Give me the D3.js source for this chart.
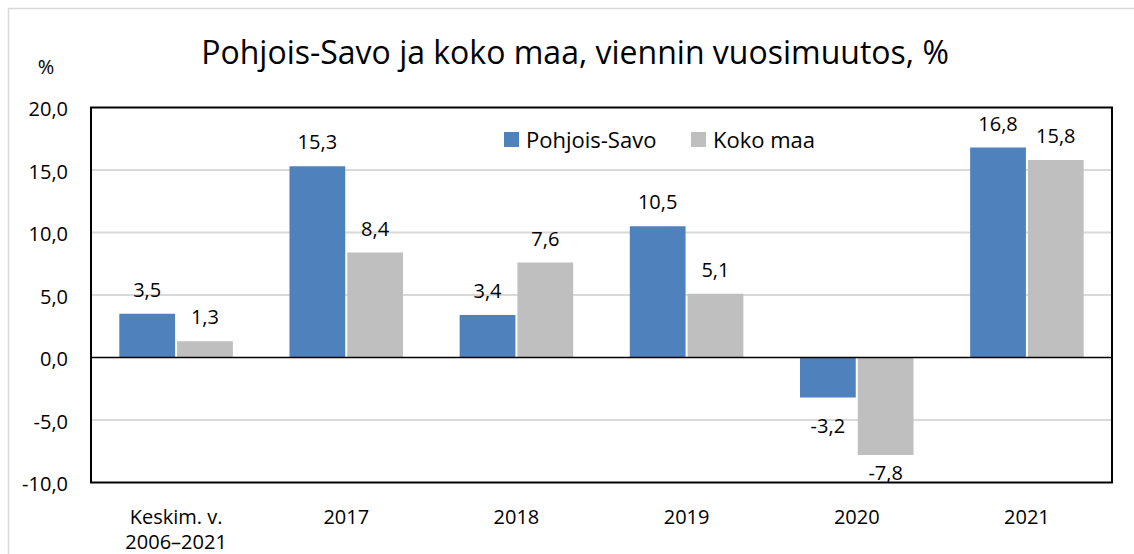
<!DOCTYPE html>
<html>
<head>
<meta charset="utf-8">
<title>Pohjois-Savo ja koko maa</title>
<script src="https://cdn.jsdelivr.net/npm/d3@7"></script>
<style>
  body { margin: 0; background: #fff; }
  text { font-family: "Open Sans", sans-serif; fill: #000; }
</style>
</head>
<body>
<script>
    // data
    var categories = ["Keskim. v.|2006–2021", "2017", "2018", "2019", "2020", "2021"];
    var seriesNames = ["Pohjois-Savo", "Koko maa"];
    var pohjoisSavo = [3.5, 15.3, 3.4, 10.5, -3.2, 16.8];
    var kokoMaa = [1.3, 8.4, 7.6, 5.1, -7.8, 15.8];
    var yTicks = [-10, -5, 0, 5, 10, 15, 20];
    var colors = ["#4f81bd", "#bfbfbf"];

    var W = 1134, H = 554;
    var pLeft = 91, pRight = 1112, pTop = 107.5, pBottom = 482.5;

    var svg = d3.select("body").append("svg")
        .attr("width", W).attr("height", H);

    // outer chart border
    svg.append("rect")
        .attr("x", 8.5).attr("y", 8.5)
        .attr("width", 1140).attr("height", 560)
        .attr("fill", "none").attr("stroke", "#d9d9d9").attr("stroke-width", 1.5);

    var x = d3.scaleBand().domain(d3.range(categories.length))
        .range([pLeft, pRight]).paddingInner(0).paddingOuter(0);
    var x1 = d3.scaleBand().domain([0, 1])
        .range([0, x.bandwidth()]).paddingInner(0.035).paddingOuter(0.49);
    var y = d3.scaleLinear().domain([-10, 20]).range([pBottom, pTop]);

    var fmt = function(d){ return d3.format(".1f")(d).replace(".", ",").replace("−", "-"); };

    // gridlines
    svg.append("g").selectAll("line")
        .data(yTicks.filter(function(d){ return d !== 0 && d !== 20 && d !== -10; }))
        .enter().append("line")
        .attr("x1", pLeft).attr("x2", pRight)
        .attr("y1", function(d){ return y(d); })
        .attr("y2", function(d){ return y(d); })
        .attr("stroke", "#d9d9d9").attr("stroke-width", 2);

    // y tick labels
    var yAxis = d3.axisLeft(y).tickValues(yTicks)
        .tickSize(0).tickPadding(23)
        .tickFormat(fmt);
    var ya = svg.append("g").attr("transform", "translate(" + pLeft + ",0)").call(yAxis);
    ya.select(".domain").remove();
    ya.selectAll("text").attr("font-size", 20).attr("font-family", "Open Sans, sans-serif")
        .attr("fill", "#000").attr("dy", "0.42em");

    var rows = categories.map(function(c, i){ return [pohjoisSavo[i], kokoMaa[i]]; });

    var groups = svg.append("g").selectAll("g")
        .data(rows).enter().append("g")
        .attr("transform", function(d, i){ return "translate(" + x(i) + ",0)"; });

    groups.selectAll("rect")
        .data(function(d){ return d; })
        .enter().append("rect")
        .attr("x", function(d, j){ return x1(j); })
        .attr("width", x1.bandwidth())
        .attr("y", function(d){ return y(Math.max(0, d)); })
        .attr("height", function(d){ return Math.abs(y(d) - y(0)); })
        .attr("fill", function(d, j){ return colors[j]; });

    // value labels (negative ones kept inside the plot area, like Excel does)
    groups.selectAll("text.val")
        .data(function(d){ return d; })
        .enter().append("text")
        .attr("class", "val")
        .attr("text-anchor", "middle")
        .attr("font-size", 20)
        .attr("x", function(d, j){ return x1(j) + x1.bandwidth() / 2; })
        .attr("y", function(d){ return d >= 0 ? y(d) - 17 : Math.min(y(d) + 35.5, pBottom - 3); })
        .text(fmt);

    // zero line
    svg.append("line")
        .attr("x1", pLeft).attr("x2", pRight)
        .attr("y1", y(0)).attr("y2", y(0))
        .attr("stroke", "#000").attr("stroke-width", 1.5);

    // plot border
    svg.append("rect")
        .attr("x", pLeft).attr("y", pTop)
        .attr("width", pRight - pLeft).attr("height", pBottom - pTop)
        .attr("fill", "none").attr("stroke", "#000").attr("stroke-width", 2);

    // category labels
    var cat = svg.append("g").selectAll("text")
        .data(categories).enter().append("text")
        .attr("text-anchor", "middle")
        .attr("font-size", 20)
        .attr("x", function(d, i){ return x(i) + x.bandwidth() / 2; })
        .attr("y", 524);
    cat.each(function(d){
        var t = d3.select(this);
        d.split("|").forEach(function(line, k){
            t.append("tspan").attr("x", t.attr("x")).attr("dy", k === 0 ? 0 : 25).text(line);
        });
    });

    // legend
    var legX = [504, 691];
    var leg = svg.append("g").selectAll("g")
        .data(seriesNames).enter().append("g")
        .attr("transform", function(d, i){ return "translate(" + legX[i] + ",132)"; });
    leg.append("rect").attr("width", 15).attr("height", 15)
        .attr("fill", function(d, i){ return colors[i]; });
    leg.append("text").attr("x", 22).attr("y", 15.5).attr("font-size", 22)
        .text(function(d){ return d; });

    // title
    svg.append("text")
        .attr("x", 575).attr("y", 64)
        .attr("text-anchor", "middle")
        .attr("font-size", 32)
        .text("Pohjois-Savo ja koko maa, viennin vuosimuutos, %");

    svg.append("text")
        .attr("x", 46).attr("y", 74)
        .attr("text-anchor", "middle")
        .attr("font-size", 20)
        .text("%");
</script>
</body>
</html>
